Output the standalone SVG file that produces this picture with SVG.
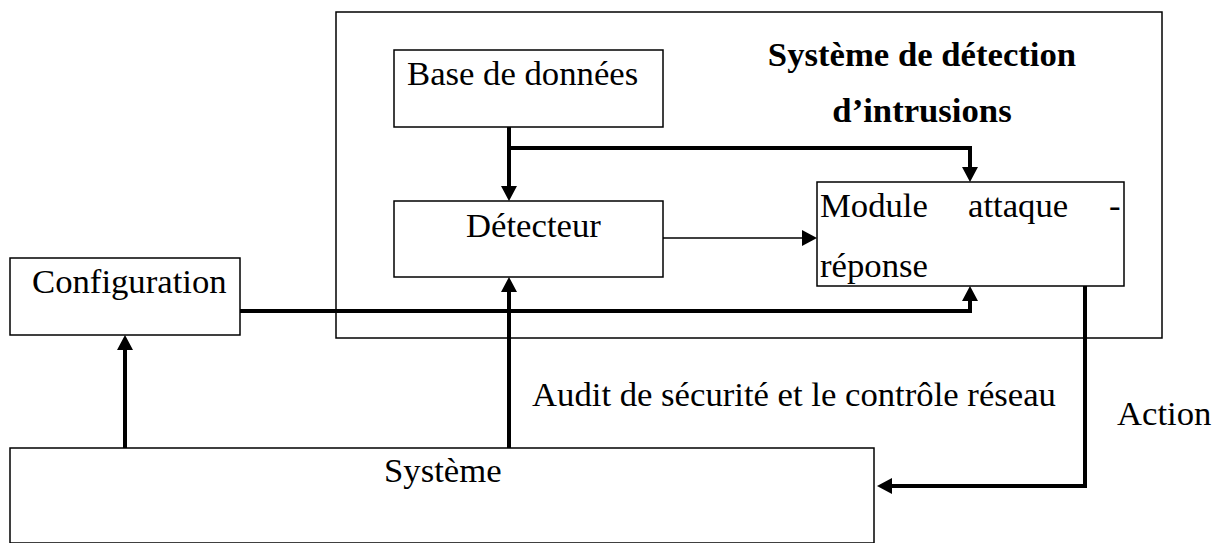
<svg xmlns="http://www.w3.org/2000/svg" width="1219" height="543" viewBox="0 0 1219 543">
<style>
.box{fill:#fff;stroke:#000;stroke-width:1.5}
.t{font-family:"Liberation Serif","Times New Roman",serif;font-size:34.7px;fill:#000}
.b{font-weight:bold}
.thick{fill:none;stroke:#000;stroke-width:4}
.thin{fill:none;stroke:#000;stroke-width:1.6}
</style>
<defs>
<marker id="ah" viewBox="0 0 15 16" refX="0" refY="8" markerWidth="15" markerHeight="16" markerUnits="userSpaceOnUse" orient="auto">
<path d="M0,0 L15,8 L0,16 z" fill="#000"/>
</marker>
</defs>
<rect width="1219" height="543" fill="#fff"/>
<g id="ids">
<rect class="box" x="336" y="12" width="826" height="326"/>
<text class="t b" x="922" y="66" text-anchor="middle">Système de détection</text>
<text class="t b" x="922" y="122" text-anchor="middle">d’intrusions</text>
</g>
<g id="base">
<rect class="box" x="394" y="50" width="269" height="77"/>
<text class="t" x="407" y="85">Base de données</text>
</g>
<g id="detecteur">
<rect class="box" x="394" y="201" width="269" height="76"/>
<text class="t" x="466" y="237">Détecteur</text>
</g>
<g id="module">
<rect class="box" x="817" y="182" width="307" height="104"/>
<text class="t" y="217"><tspan x="820">Module</tspan><tspan x="968">attaque</tspan><tspan x="1109">-</tspan></text>
<text class="t" x="820" y="277">réponse</text>
</g>
<g id="configuration">
<rect class="box" x="10" y="258" width="230" height="77"/>
<text class="t" x="32" y="293">Configuration</text>
</g>
<g id="systeme">
<rect class="box" x="10" y="448" width="864" height="95"/>
<text class="t" x="384" y="482">Système</text>
</g>
<g id="connectors">
<path class="thick" d="M509,127 V186" marker-end="url(#ah)"/>
<path class="thick" d="M509,148 H970 V167" marker-end="url(#ah)"/>
<path class="thin" d="M663,238 H802" marker-end="url(#ah)"/>
<path class="thick" d="M240,311 H970 V301" marker-end="url(#ah)"/>
<path class="thick" d="M125,448 V350" marker-end="url(#ah)"/>
<path class="thick" d="M509,448 V292" marker-end="url(#ah)"/>
<path class="thick" d="M1085,286 V486 H892" marker-end="url(#ah)"/>
</g>
<g id="labels">
<text class="t" x="532" y="406">Audit de sécurité et le contrôle réseau</text>
<text class="t" x="1117" y="425">Action</text>
</g>
</svg>
